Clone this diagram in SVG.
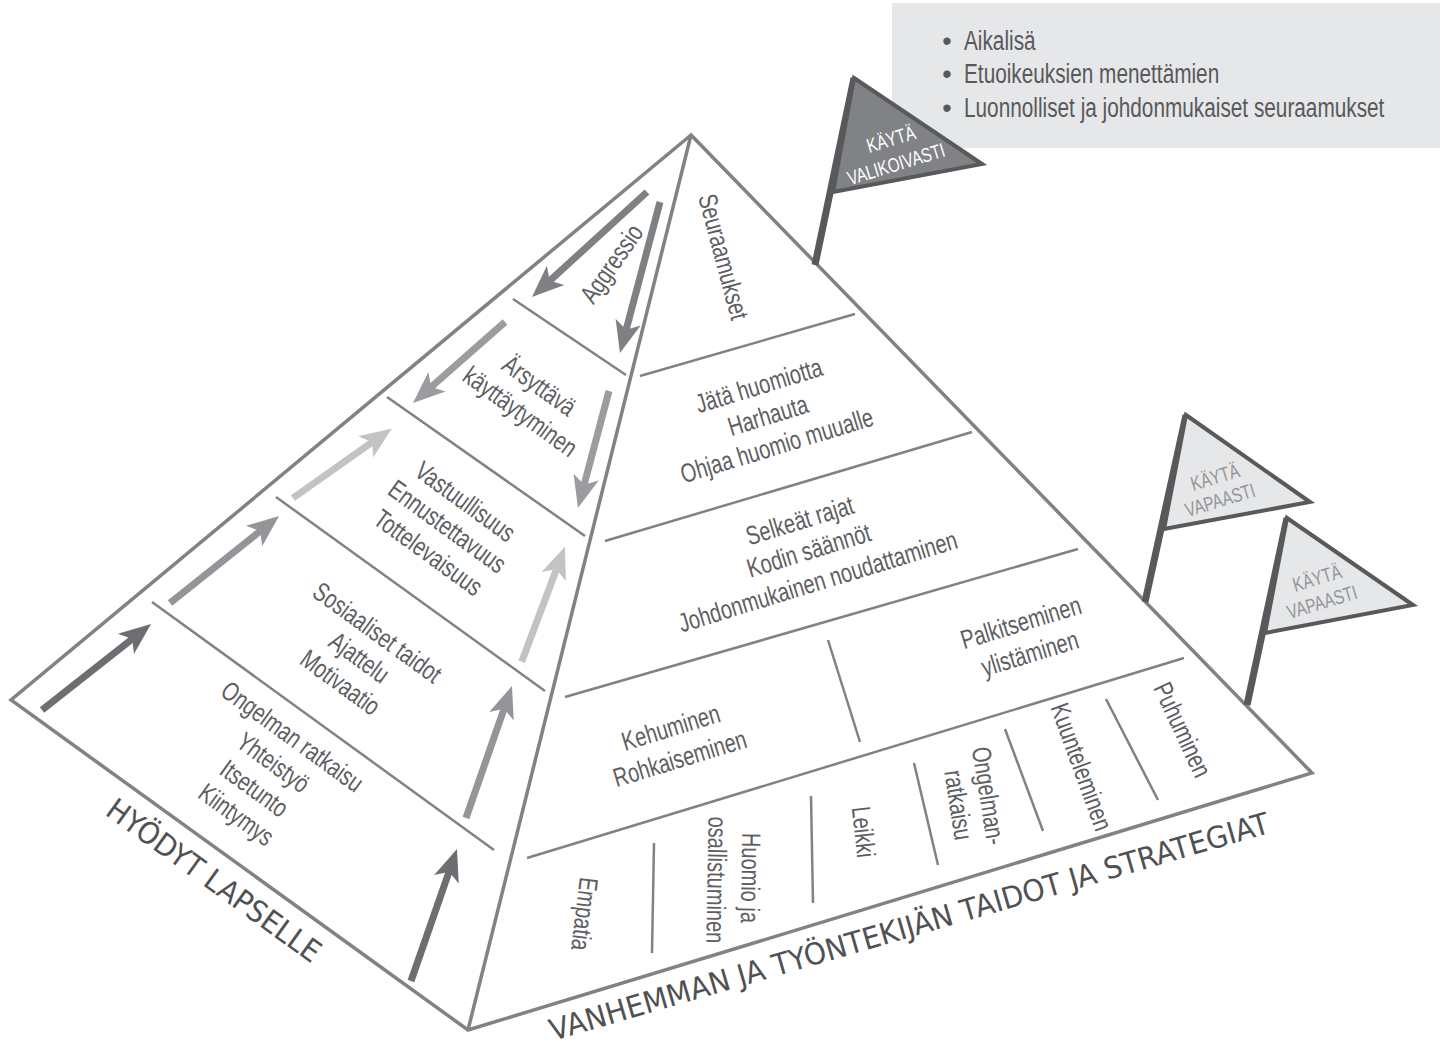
<svg xmlns="http://www.w3.org/2000/svg" width="1450" height="1053" viewBox="0 0 1450 1053">
<style>
.edge{fill:none;stroke:#808285;stroke-width:3.5;stroke-linejoin:miter}
.dv{fill:none;stroke:#808285;stroke-width:2.5}
.t{font-family:"Liberation Sans",Arial,sans-serif;font-size:26.5px;fill:#5d5e61;text-anchor:middle}
.lab{font-family:"DejaVu Sans","Liberation Sans",sans-serif;font-size:30px;fill:#505153}
.ft{font-family:"Liberation Sans",Arial,sans-serif;font-size:20px;text-anchor:middle}
.bt{font-family:"Liberation Sans",Arial,sans-serif;font-size:27px;fill:#58595b}
.ar{fill:none;stroke-width:7;stroke-linecap:butt}
.pole{stroke:#58595b;stroke-width:7;stroke-linecap:butt}
.flag{stroke:#58595b;stroke-width:4;stroke-linejoin:miter}
</style>
<defs>
<marker id="mA" markerUnits="userSpaceOnUse" orient="auto" viewBox="-10 -15 36 30" markerWidth="36" markerHeight="30" refX="0" refY="0"><path d="M24,0 L-8,-13 L0,0 L-8,13 Z" fill="#7f8083"/></marker>
<marker id="mB" markerUnits="userSpaceOnUse" orient="auto" viewBox="-10 -15 36 30" markerWidth="36" markerHeight="30" refX="0" refY="0"><path d="M24,0 L-8,-13 L0,0 L-8,13 Z" fill="#9a9c9f"/></marker>
<marker id="mC" markerUnits="userSpaceOnUse" orient="auto" viewBox="-10 -15 36 30" markerWidth="36" markerHeight="30" refX="0" refY="0"><path d="M24,0 L-8,-13 L0,0 L-8,13 Z" fill="#6d6e71"/></marker>
<marker id="mD" markerUnits="userSpaceOnUse" orient="auto" viewBox="-10 -15 36 30" markerWidth="36" markerHeight="30" refX="0" refY="0"><path d="M24,0 L-8,-13 L0,0 L-8,13 Z" fill="#939598"/></marker>
<marker id="mE" markerUnits="userSpaceOnUse" orient="auto" viewBox="-10 -15 36 30" markerWidth="36" markerHeight="30" refX="0" refY="0"><path d="M24,0 L-8,-13 L0,0 L-8,13 Z" fill="#c2c3c5"/></marker>
</defs>
<rect x="0" y="0" width="1450" height="1053" fill="#ffffff"/>

<g id="consequences-box">
<rect x="892" y="3" width="548" height="145" fill="#e6e7e8"/>
<text class="bt" x="947" y="50" text-anchor="middle">•</text>
<text class="bt" x="947" y="83" text-anchor="middle">•</text>
<text class="bt" x="947" y="117" text-anchor="middle">•</text>
<text class="bt" transform="translate(964,50) scale(0.77,1)">Aikalisä</text>
<text class="bt" transform="translate(964,83) scale(0.77,1)">Etuoikeuksien menettämien</text>
<text class="bt" transform="translate(964,117) scale(0.77,1)">Luonnolliset ja johdonmukaiset seuraamukset</text>
</g>

<g id="pyramid">
<path class="edge" d="M691,135 L11,700 L468,1030 L1312,773 Z M691,135 L468,1030"/>
</g>

<g id="left-face-layers">
<line class="dv" x1="513" y1="299" x2="626" y2="375"/>
<line class="dv" x1="387" y1="397" x2="585" y2="536"/>
<line class="dv" x1="276" y1="497" x2="545" y2="691"/>
<line class="dv" x1="152" y1="602" x2="494" y2="850"/>
</g>

<g id="right-face-layers">
<line class="dv" x1="640" y1="376" x2="855" y2="314"/>
<line class="dv" x1="605" y1="541" x2="972" y2="432"/>
<line class="dv" x1="565" y1="697" x2="1078" y2="549"/>
<line class="dv" x1="527" y1="858" x2="1184" y2="658"/>
<line class="dv" x1="828" y1="640" x2="860" y2="742"/>
<line class="dv" x1="654" y1="843" x2="652" y2="953"/>
<line class="dv" x1="811" y1="796" x2="813" y2="903"/>
<line class="dv" x1="914" y1="763" x2="938" y2="865"/>
<line class="dv" x1="1005" y1="729" x2="1043" y2="831"/>
<line class="dv" x1="1106" y1="699" x2="1158" y2="800"/>
</g>

<g id="arrows">
<path class="ar" stroke="#7f8083" d="M647,192 L549.7,280.8" marker-end="url(#mA)"/>
<path class="ar" stroke="#7f8083" d="M660,202 L626.1,329.8" marker-end="url(#mA)"/>
<path class="ar" stroke="#9a9c9f" d="M505,322 L431,387.1" marker-end="url(#mB)"/>
<path class="ar" stroke="#9a9c9f" d="M609,391 L584.1,484.8" marker-end="url(#mB)"/>
<path class="ar" stroke="#6d6e71" d="M42,710 L132.2,638.9" marker-end="url(#mC)"/>
<path class="ar" stroke="#939598" d="M170,603 L260.3,531" marker-end="url(#mD)"/>
<path class="ar" stroke="#c2c3c5" d="M293,498 L372.2,442.2" marker-end="url(#mE)"/>
<path class="ar" stroke="#6d6e71" d="M411,981 L449.1,871.7" marker-end="url(#mC)"/>
<path class="ar" stroke="#939598" d="M466,818 L504.1,708.7" marker-end="url(#mD)"/>
<path class="ar" stroke="#c2c3c5" d="M521.7,661.7 L556.5,569.2" marker-end="url(#mE)"/>
</g>

<g id="left-face-texts">
<text class="t" transform="translate(612,264) rotate(-55) scale(0.755,1)" y="8.5">Aggressio</text>
<text class="t" transform="translate(539,386) rotate(36) scale(0.755,1)" y="8.5">Ärsyttävä</text>
<text class="t" transform="translate(520,412) rotate(36) scale(0.755,1)" y="8.5">käyttäytyminen</text>
<text class="t" transform="translate(465,502) rotate(36) scale(0.755,1)" y="8.5">Vastuullisuus</text>
<text class="t" transform="translate(447,527) rotate(36) scale(0.755,1)" y="8.5">Ennustettavuus</text>
<text class="t" transform="translate(428,553) rotate(36) scale(0.755,1)" y="8.5">Tottelevaisuus</text>
<text class="t" transform="translate(377,633) rotate(36) scale(0.755,1)" y="8.5">Sosiaaliset taidot</text>
<text class="t" transform="translate(359,658) rotate(36) scale(0.755,1)" y="8.5">Ajattelu</text>
<text class="t" transform="translate(340,683) rotate(36) scale(0.755,1)" y="8.5">Motivaatio</text>
<text class="t" transform="translate(292,737) rotate(36) scale(0.755,1)" y="8.5">Ongelman ratkaisu</text>
<text class="t" transform="translate(273,763) rotate(36) scale(0.755,1)" y="8.5">Yhteistyö</text>
<text class="t" transform="translate(254,789) rotate(36) scale(0.755,1)" y="8.5">Itsetunto</text>
<text class="t" transform="translate(236,815) rotate(36) scale(0.755,1)" y="8.5">Kiintymys</text>
</g>

<g id="right-face-texts">
<text class="t" transform="translate(723,257) rotate(75) scale(0.755,1)" y="8.5">Seuraamukset</text>
<text class="t" transform="translate(759,386) rotate(-17) scale(0.755,1)" y="8.5">Jätä huomiotta</text>
<text class="t" transform="translate(768,416) rotate(-17) scale(0.755,1)" y="8.5">Harhauta</text>
<text class="t" transform="translate(777,446) rotate(-17) scale(0.755,1)" y="8.5">Ohjaa huomio muualle</text>
<text class="t" transform="translate(800,521) rotate(-17) scale(0.755,1)" y="8.5">Selkeät rajat</text>
<text class="t" transform="translate(809,551) rotate(-17) scale(0.755,1)" y="8.5">Kodin säännöt</text>
<text class="t" transform="translate(818,582) rotate(-17) scale(0.755,1)" y="8.5">Johdonmukainen noudattaminen</text>
<text class="t" transform="translate(1021,623) rotate(-17) scale(0.755,1)" y="8.5">Palkitseminen</text>
<text class="t" transform="translate(1030,654) rotate(-17) scale(0.755,1)" y="8.5">ylistäminen</text>
<text class="t" transform="translate(671,728) rotate(-17) scale(0.755,1)" y="8.5">Kehuminen</text>
<text class="t" transform="translate(680,759) rotate(-17) scale(0.755,1)" y="8.5">Rohkaiseminen</text>
<text class="t" transform="translate(584,914) rotate(97) scale(0.755,1)" y="8.5">Empatia</text>
<text class="t" transform="translate(750,878) rotate(91) scale(0.755,1)" y="8.5">Huomio ja</text>
<text class="t" transform="translate(716,880) rotate(91) scale(0.755,1)" y="8.5">osallistuminen</text>
<text class="t" transform="translate(863,832) rotate(84) scale(0.755,1)" y="8.5">Leikki</text>
<text class="t" transform="translate(988,796) rotate(81) scale(0.755,1)" y="8.5">Ongelman-</text>
<text class="t" transform="translate(958,805) rotate(81) scale(0.755,1)" y="8.5">ratkaisu</text>
<text class="t" transform="translate(1081,767) rotate(70) scale(0.755,1)" y="8.5">Kuunteleminen</text>
<text class="t" transform="translate(1182,730) rotate(65) scale(0.755,1)" y="8.5">Puhuminen</text>
</g>

<g id="side-labels">
<text class="lab" transform="translate(104,814) rotate(35.8)" textLength="256" lengthAdjust="spacingAndGlyphs">HYÖDYT LAPSELLE</text>
<text class="lab" transform="translate(553,1041) rotate(-16.2)" textLength="748" lengthAdjust="spacingAndGlyphs">VANHEMMAN JA TYÖNTEKIJÄN TAIDOT JA STRATEGIAT</text>
</g>

<g id="flag-selective">
<line class="pole" x1="854" y1="78" x2="815" y2="265"/>
<polygon class="flag" points="854,78 982,164 833,192" fill="#808285"/>
<text class="ft" fill="#ffffff" transform="translate(891,139) rotate(-17) scale(0.76,1)" y="7">KÄYTÄ</text>
<text class="ft" fill="#ffffff" transform="translate(896,164) rotate(-17) scale(0.76,1)" y="7">VALIKOIVASTI</text>
</g>

<g id="flag-free-1">
<line class="pole" x1="1186" y1="415" x2="1145" y2="602"/>
<polygon class="flag" points="1186,415 1310,502 1164,529" fill="#e6e7e8"/>
<text class="ft" fill="#939598" transform="translate(1215,477) rotate(-17) scale(0.76,1)" y="7">KÄYTÄ</text>
<text class="ft" fill="#939598" transform="translate(1220,500) rotate(-17) scale(0.76,1)" y="7">VAPAASTI</text>
</g>

<g id="flag-free-2">
<line class="pole" x1="1287" y1="518" x2="1247" y2="705"/>
<polygon class="flag" points="1287,518 1413,605 1265,633" fill="#e6e7e8"/>
<text class="ft" fill="#939598" transform="translate(1317,578) rotate(-17) scale(0.76,1)" y="7">KÄYTÄ</text>
<text class="ft" fill="#939598" transform="translate(1322,602) rotate(-17) scale(0.76,1)" y="7">VAPAASTI</text>
</g>
</svg>
